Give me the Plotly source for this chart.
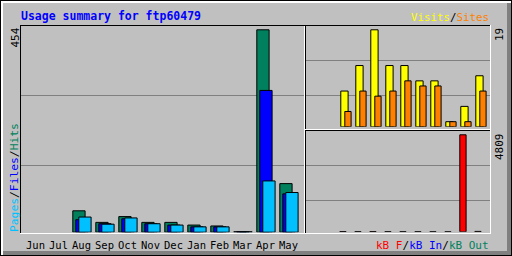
import plotly.graph_objects as go

# ---------------- data ----------------
months = ["Jun", "Jul", "Aug", "Sep", "Oct", "Nov", "Dec", "Jan", "Feb", "Mar", "Apr", "May"]
hits   = [None, None, 48, 22, 35, 22, 22, 16, 14, 1, 454, 109]
files  = [None, None, 28, 19, 30, 19, 16, 12, 12, 1, 318, 86]
pages  = [None, None, 34, 18, 32, 19, 16, 12, 12, 1, 115, 89]
visits = [None, None, 7, 12, 19, 12, 12, 9, 9, 1, 4, 10]
sites  = [None, None, 3, 7, 6, 7, 9, 8, 8, 1, 1, 7]
kb_f   = [None, None, 12, 8, 11, 7, 6, 5, 4, 1, 4809, 20]
max_hits, max_visits, max_kb = 454, 19, 4809
idx = list(range(len(months)))

# ---------------- styling ----------------
W, H = 512, 256
BG = "#C0C0C0"
C_HITS, C_FILES, C_PAGES = "#00805C", "#0000FF", "#00C0FF"
C_VIS, C_SITES, C_KB = "#FFFF00", "#FF8000", "#FF0000"
FONT = "DejaVu Sans Mono"

def px(x):
    return x / W

def py(y):
    return 1 - y / H

line = dict(color="black", width=1)

fig = go.Figure()
# main panel: hits / files / pages
fig.add_bar(x=idx, y=hits, offset=0, width=12.3 / 23, marker=dict(color=C_HITS, line=line), xaxis="x", yaxis="y")
fig.add_bar(x=idx, y=files, offset=3 / 23, width=12.3 / 23, marker=dict(color=C_FILES, line=line), xaxis="x", yaxis="y")
fig.add_bar(x=idx, y=pages, offset=6 / 23, width=12.3 / 23, marker=dict(color=C_PAGES, line=line), xaxis="x", yaxis="y")
# visits / sites
fig.add_bar(x=idx, y=visits, offset=0, width=7.3 / 15, marker=dict(color=C_VIS, line=line), xaxis="x2", yaxis="y2")
fig.add_bar(x=idx, y=sites, offset=4 / 15, width=6.3 / 15, marker=dict(color=C_SITES, line=line), xaxis="x2", yaxis="y2")
# kB
fig.add_bar(x=idx, y=kb_f, offset=-1 / 15, width=6.3 / 15, marker=dict(color=C_KB, line=line), xaxis="x3", yaxis="y3")

ax = dict(visible=False, fixedrange=True)
fig.update_layout(
    width=W, height=H, margin=dict(l=0, r=0, t=0, b=0),
    paper_bgcolor=BG, plot_bgcolor="rgba(0,0,0,0)",
    barmode="overlay", showlegend=False,
    xaxis=dict(domain=[px(20), px(304)], range=[(20 - 26.8) / 23, (304 - 26.8) / 23], **ax),
    yaxis=dict(domain=[py(232.2), py(25)], range=[0, max_hits * 207.2 / 202.4], **ax),
    xaxis2=dict(domain=[px(305), px(490)], range=[(305 - 310.8) / 15, (490 - 310.8) / 15], **ax),
    yaxis2=dict(domain=[py(126.8), py(25)], range=[0, max_visits * 101.8 / 97], **ax),
    xaxis3=dict(domain=[px(305), px(490)], range=[(305 - 310.8) / 15, (490 - 310.8) / 15], **ax),
    yaxis3=dict(domain=[py(231.8), py(130)], range=[0, max_kb * 101.8 / 97], **ax),
)

shapes = []

def hline(row, x0, x1, color, layer="above"):
    shapes.append(dict(type="line", xref="paper", yref="paper", x0=px(x0), x1=px(x1),
                       y0=py(row + 0.5), y1=py(row + 0.5), line=dict(color=color, width=1), layer=layer))

def vline(col, y0, y1, color, layer="above"):
    shapes.append(dict(type="line", xref="paper", yref="paper", x0=px(col + 0.5), x1=px(col + 0.5),
                       y0=py(y0), y1=py(y1), line=dict(color=color, width=1), layer=layer))

def rect(x0, y0, x1, y1, color):
    shapes.append(dict(type="rect", xref="paper", yref="paper", x0=px(x0), x1=px(x1),
                       y0=py(y0), y1=py(y1), line=dict(width=0), fillcolor=color, layer="above"))

# grid lines
GRID = "#808080"
for r in (95, 165):
    hline(r, 21, 304, GRID, "below")
for r in (60, 95):
    hline(r, 306, 490, GRID, "below")
for r in (165, 200):
    hline(r, 306, 490, GRID, "below")

# outer frame
rect(0, 0, 512, 1, "black")
rect(0, 0, 1, 256, "black")
rect(511, 0, 512, 256, "black")
rect(0, 255, 512, 256, "black")
rect(1, 1, 511, 3, "white")
rect(1, 1, 3, 255, "white")
rect(507, 3, 511, 255, "#808080")
rect(3, 251, 511, 255, "#808080")

# panel borders
hline(25, 20, 491, "black")
vline(20, 25, 234, "black")
hline(233, 20, 491, "white")
vline(490, 25, 234, "white")
vline(304, 26, 233, "white")
vline(305, 26, 233, "black")
hline(129, 305, 490, "white")
hline(130, 306, 490, "black")

fig.update_layout(shapes=shapes)

ann = []
def text(x, y, s, size, color="black", xanchor="left", yanchor="middle", angle=0, xref="paper", bold=False):
    ann.append(dict(x=x, y=y, xref=xref, yref="paper", text=s, showarrow=False,
                    xanchor=xanchor, yanchor=yanchor, textangle=angle,
                    font=dict(family=FONT, size=size, color=color, weight="bold" if bold else "normal")))

text(px(19), py(15.5), "Usage summary for ftp60479", 11.5, C_FILES, bold=True)
text(px(491), py(17), f'<span style="color:{C_VIS}">Visits</span>/<span style="color:{C_SITES}">Sites</span>', 10.8, xanchor="right")
text(px(491), py(245), f'<span style="color:{C_KB}">kB F</span>/<span style="color:{C_FILES}">kB In</span>/<span style="color:{C_HITS}">kB Out</span>', 11, xanchor="right")
text(px(14.5), py(234), f'<span style="color:{C_PAGES}">Pages</span>/<span style="color:{C_FILES}">Files</span>/<span style="color:{C_HITS}">Hits</span>', 11.3, xanchor="center", yanchor="bottom", angle=-90)
text(px(14.5), py(26), str(max_hits), 11, xanchor="center", yanchor="top", angle=-90)
text(px(499.5), py(26), str(max_visits), 11, xanchor="center", yanchor="top", angle=-90)
text(px(499.5), py(131), str(max_kb), 11, xanchor="center", yanchor="top", angle=-90)
for i, m in zip(idx, months):
    text(i + (6 + 13.3) / 2 / 23 - 0.02, py(245), m, 10.5, xanchor="center", xref="x")

fig.update_layout(annotations=ann)
fig.write_html("out.html")
